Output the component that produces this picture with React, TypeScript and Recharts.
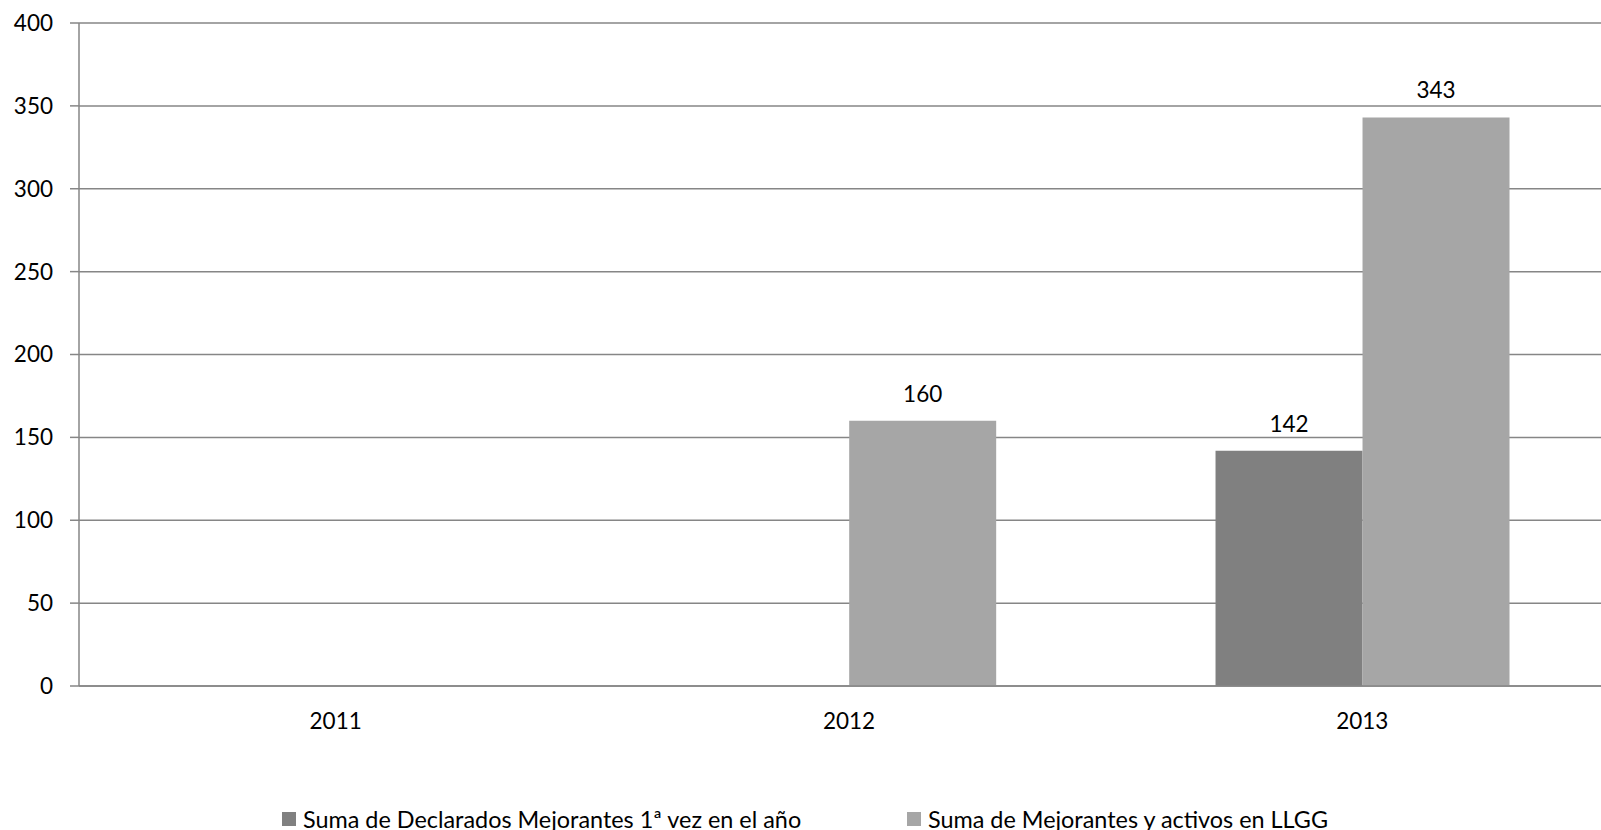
import React from 'react';
import { BarChart, Bar, XAxis, YAxis, CartesianGrid, Legend, LabelList } from 'recharts';

const categories = ['2011', '2012', '2013'];
const declarados: (number | null)[] = [null, null, 142];
const mejorantes: (number | null)[] = [null, 160, 343];
const yTicks = [0, 50, 100, 150, 200, 250, 300, 350, 400];
const seriesNames = ['Suma de Declarados Mejorantes 1ª vez en el año', 'Suma de Mejorantes y activos en LLGG'];

const data = categories.map((c, i) => ({ year: c, declarados: declarados[i], mejorantes: mejorantes[i] }));

const FONT = 'Lato, "Open Sans", sans-serif';
const FS = 22.5;
const LEGEND_FS = 23.4;
const GRID = '#868686';
const LEGEND_LEFT = [282, 907];

const renderLegend = (props: any) => {
  const payload = props.payload || [];
  return (
    <div style={{ position: 'relative', width: 1601, height: 26, fontFamily: FONT, fontSize: LEGEND_FS, lineHeight: '26px', color: '#000' }}>
      {payload.map((p: any, i: number) => (
        <div key={i} style={{ position: 'absolute', left: LEGEND_LEFT[i], top: 0, height: 26, display: 'flex', alignItems: 'center', whiteSpace: 'nowrap' }}>
          <span style={{ display: 'inline-block', width: 14, height: 14, background: p.color, marginRight: 7 }} />
          <span>{p.value}</span>
        </div>
      ))}
    </div>
  );
};

export default function App() {
  return (
    <div style={{ position: 'absolute', left: 0, top: 0, width: 1601, height: 830, overflow: 'hidden', background: '#fff' }}>
      <BarChart
        width={1619}
        height={830}
        data={data}
        margin={{ top: 23, right: 0, bottom: 0, left: 0 }}
        barCategoryGap="21.4%"
        barGap={0}
      >
        <CartesianGrid vertical={false} stroke={GRID} strokeWidth={1.5} />
        <XAxis
          dataKey="year"
          height={118}
          tickLine={false}
          tickSize={0}
          tickMargin={27}
          axisLine={{ stroke: GRID, strokeWidth: 1.5 }}
          tick={{ fill: '#000', fontFamily: FONT, fontSize: FS }}
          interval={0}
        />
        <YAxis
          width={79}
          domain={[0, 400]}
          ticks={yTicks}
          interval={0}
          tickSize={9}
          tickMargin={17}
          tickLine={{ stroke: GRID, strokeWidth: 1.5 }}
          axisLine={{ stroke: GRID, strokeWidth: 1.5 }}
          tick={{ fill: '#000', fontFamily: FONT, fontSize: FS }}
        />
        <Legend
          verticalAlign="bottom"
          content={renderLegend}
          wrapperStyle={{ left: 0, top: 806, bottom: 'auto', width: 1601, height: 26 }}
        />
        <Bar dataKey="declarados" name={seriesNames[0]} fill="#808080" isAnimationActive={false}>
          <LabelList dataKey="declarados" position="top" offset={19} fill="#000" style={{ fontFamily: FONT, fontSize: FS }} />
        </Bar>
        <Bar dataKey="mejorantes" name={seriesNames[1]} fill="#a6a6a6" isAnimationActive={false}>
          <LabelList dataKey="mejorantes" position="top" offset={19} fill="#000" style={{ fontFamily: FONT, fontSize: FS }} />
        </Bar>
      </BarChart>
    </div>
  );
}
